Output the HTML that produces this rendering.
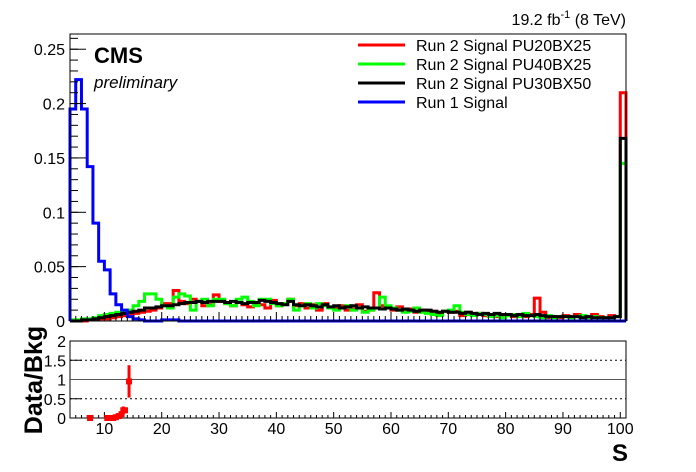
<!DOCTYPE html>
<html><head><meta charset="utf-8"><style>
body{margin:0;background:#fff;}
svg{display:block;font-family:"Liberation Sans",Arial,sans-serif;}
</style></head><body>
<svg id="c" width="696" height="472" viewBox="0 0 696 472" xmlns="http://www.w3.org/2000/svg">
<rect width="696" height="472" fill="#fff"/>
<g id="main"></g>
<g id="ratio"></g>
<text x="626" y="25" text-anchor="end" font-size="16">19.2 fb<tspan dy="-7" font-size="11">-1</tspan><tspan dy="7"> (8 TeV)</tspan></text>
<text x="94" y="63" font-size="22" font-weight="bold">CMS</text>
<text x="94" y="88" font-size="17" font-style="italic">preliminary</text>
<g font-size="16">
<line x1="358" y1="45" x2="405" y2="45" stroke="#f00" stroke-width="3"/><text x="416" y="51">Run 2 Signal PU20BX25</text>
<line x1="358" y1="64" x2="405" y2="64" stroke="#0f0" stroke-width="3"/><text x="416" y="70">Run 2 Signal PU40BX25</text>
<line x1="358" y1="83" x2="405" y2="83" stroke="#000" stroke-width="3"/><text x="416" y="89">Run 2 Signal PU30BX50</text>
<line x1="358" y1="102" x2="405" y2="102" stroke="#00f" stroke-width="3"/><text x="416" y="108">Run 1 Signal</text>
</g>
<text transform="translate(42,380) rotate(-90)" text-anchor="middle" font-size="25" font-weight="bold">Data/Bkg</text>
<text x="628" y="461" text-anchor="end" font-size="24" font-weight="bold">S</text>
</svg>
<script>
const binLo = 4;
const red = [0,0,0,1,1,2, 2,3,4,5,6,7,8,9,10,12, 16,16,28,18,16,20,18,14,15,24, 18,16,14,17,15,13,16,15,12,19, 14,16,20,14,16,12,15,10,16,12, 12,14,10,11,15,9,10,26,14,12, 10,13,9,11,8,10,8,9,7,9, 8,9,5,8,6,7,5,6,4,5, 6,4,5,4,6,21,8,3,4,3, 5,4,6,4,3,6,4,3,5,4, 210];
const green = [1,1,2,2,3,5, 6,7,8,9,10,14,18,25,25,20, 14,12,22,25,23,10,18,20,14,20, 20,16,14,20,22,18,14,20,20,16, 14,16,20,10,14,16,12,16,14,12, 10,12,14,10,12,8,10,12,22,14, 12,10,8,9,12,8,7,6,5,9, 10,14,8,6,5,7,6,4,5,3, 5,6,4,7,5,4,3,5,3,4, 4,3,4,5,3,4,3,3,3,4, 145];
const black = [0,0,1,1,2,3, 4,5,6,7,8,9,10,12,12,13, 14,14,15,16,17,17,18,17,18,18, 18,17,18,17,16,17,17,19,18,17, 16,15,18,15,14,15,14,13,15,13, 14,12,13,14,12,13,12,12,11,12, 11,10,11,10,9,10,10,9,8,9, 8,8,7,8,7,6,7,6,7,6, 6,5,6,5,5,6,5,4,4,4, 4,4,4,3,4,3,3,3,3,4, 168];
const blue = [195,222,195,142,90,55, 47,25,15,10,4,2,1,0,0,0, 1,1,1,0,0,0,0,0,0,0,
 0,0,0,0,0,0,0,0,0,0, 0,0,0,0,0,0,0,0,0,0, 0,0,0,0,0,0,0,0,0,0, 0,0,0,0,0,0,0,0,0,0,
 0,0,0,0,0,0,0,0,0,0, 0,0,0,0,0,0,0,0,0,0, 0,0,0,0,0,0,0,0,0,0, 0];
const yTicks = [0,0.05,0.1,0.15,0.2,0.25];
const yTickLabels = ["0","0.05","0.1","0.15","0.2","0.25"];
const xTicks = [10,20,30,40,50,60,70,80,90,100];
const rTicks = [0,0.5,1,1.5,2];
const rTickLabels = ["0","0.5","1","1.5","2"];
const ratioX = [7.5,10.5,11,11.5,12,12.5,13,13.3,13.6,14.3];
const ratioY = [0,0,0,0,0.02,0.05,0.1,0.2,0.2,0.95];
const ratioErr = [0.03,0.03,0.03,0.03,0.03,0.04,0.06,0.1,0.06,0.42];

const NS="http://www.w3.org/2000/svg";
const L=70,R=626,T=34,B=321,RT=341,RB=418;
const X0=4,X1=101,YMAX=0.264;
const sx=v=>L+(v-X0)/(X1-X0)*(R-L);
const sy=v=>B-v/YMAX*(B-T);
const sr=v=>RB-v/2*(RB-RT);
const main=document.getElementById('main'), ratio=document.getElementById('ratio');
function mk(tag,attrs,parent){const e=document.createElementNS(NS,tag);for(const k in attrs)e.setAttribute(k,attrs[k]);parent.appendChild(e);return e;}

function hist(vals,color,name){
  let d="M"+sx(binLo)+","+sy(0);
  vals.forEach((v,i)=>{const y=sy(v/1000);d+=" V"+y+" H"+sx(binLo+i+1);});
  d+=" V"+sy(0);
  const p=mk('path',{d:d,fill:'none',stroke:color,'stroke-width':3},main);
  
  
}
hist(red,'#f00','series-pu20bx25');
hist(green,'#0f0','series-pu40bx25');
hist(black,'#000','series-pu30bx50');
hist(blue,'#00f','series-run1');

const f1=mk('rect',{x:L,y:T,width:R-L,height:B-T,fill:'none',stroke:'#000','stroke-width':1},main);


const f2=mk('rect',{x:L,y:RT,width:R-L,height:RB-RT,fill:'none',stroke:'#000','stroke-width':1},ratio);



yTicks.forEach((v,i)=>{
  mk('line',{x1:L,y1:sy(v),x2:L+16,y2:sy(v),stroke:'#000'},main);
  const t=mk('text',{x:L-5,y:sy(v)+6,'text-anchor':'end','font-size':16},main);
  t.textContent=yTickLabels[i];
  
  
});
for(let v=0.01;v<YMAX;v+=0.01){mk('line',{x1:L,y1:sy(v),x2:L+8,y2:sy(v),stroke:'#000'},main);}
for(let v=5;v<=X1;v++){
  const big=v%10===0;
  mk('line',{x1:sx(v),y1:B,x2:sx(v),y2:B-(big?9:5),stroke:'#000'},main);
  mk('line',{x1:sx(v),y1:RB,x2:sx(v),y2:RB-(big?6:3),stroke:'#000'},ratio);
}
xTicks.forEach(v=>{
  const t=mk('text',{x:sx(v),y:434,'text-anchor':'middle','font-size':16},ratio);
  t.textContent=String(v);
  
  
});
rTicks.forEach((v,i)=>{
  mk('line',{x1:L,y1:sr(v),x2:L+12,y2:sr(v),stroke:'#000'},ratio);
  const t=mk('text',{x:L-4,y:sr(v)+6,'text-anchor':'end','font-size':16},ratio);
  t.textContent=rTickLabels[i];
  
  
});
[0.5,1.5].forEach(v=>{mk('line',{x1:L,y1:sr(v),x2:R,y2:sr(v),stroke:'#000','stroke-dasharray':'2,3'},ratio);});
const one=mk('line',{x1:L,y1:sr(1),x2:R,y2:sr(1),stroke:'#555','stroke-width':1},ratio);


ratioX.forEach((x,i)=>{
  const g=mk('g',{},ratio);
  
  
  mk('line',{x1:sx(x),y1:sr(Math.max(0,ratioY[i]-ratioErr[i])),x2:sx(x),y2:sr(ratioY[i]+ratioErr[i]),stroke:'#f00','stroke-width':3},g);
  mk('rect',{x:sx(x)-3,y:sr(ratioY[i])-3,width:6,height:6,fill:'#f00'},g);
});
</script>
</body></html>
